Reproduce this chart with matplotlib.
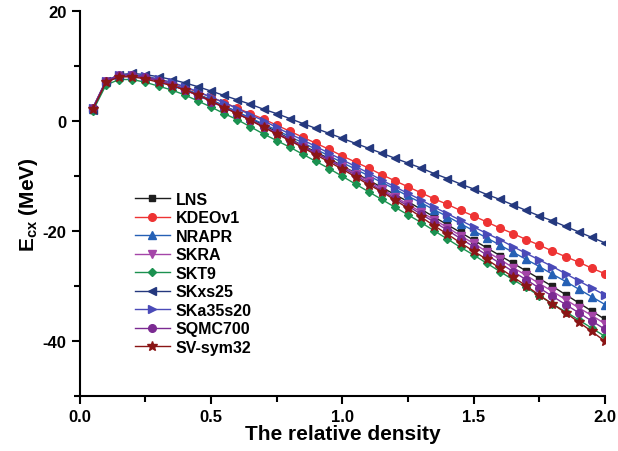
import numpy as np
import matplotlib
matplotlib.use('Agg')
from matplotlib import pyplot as plt
from matplotlib.ticker import MultipleLocator

plt.rcParams['font.family'] = ['Liberation Sans', 'DejaVu Sans']
plt.rcParams['axes.unicode_minus'] = False
plt.rcParams['mathtext.fontset'] = 'custom'
plt.rcParams['mathtext.rm'] = 'Liberation Sans'
plt.rcParams['mathtext.bf'] = 'Liberation Sans:bold'

# relative density (x) sampled every 0.05
rho = [0.05, 0.10, 0.15, 0.20, 0.25, 0.30, 0.35, 0.40, 0.45, 0.50,
       0.55, 0.60, 0.65, 0.70, 0.75, 0.80, 0.85, 0.90, 0.95, 1.00,
       1.05, 1.10, 1.15, 1.20, 1.25, 1.30, 1.35, 1.40, 1.45, 1.50,
       1.55, 1.60, 1.65, 1.70, 1.75, 1.80, 1.85, 1.90, 1.95, 2.00]

LNS = [2.0, 7.0, 8.1, 8.2, 7.9, 7.3, 6.6, 5.8, 4.8, 3.8,
       2.7, 1.6, 0.4, -0.8, -2.0, -3.3, -4.5, -5.7, -6.9, -8.2,
       -9.5, -10.8, -12.1, -13.4, -14.7, -16.1, -17.5, -18.9, -20.3, -21.7,
       -23.1, -24.5, -25.9, -27.3, -28.7, -30.1, -31.6, -33.1, -34.6, -36.1]
KDEOv1 = [2.3, 7.2, 8.2, 8.3, 8.0, 7.5, 6.9, 6.1, 5.2, 4.3,
          3.3, 2.3, 1.3, 0.3, -0.8, -1.9, -3.0, -4.1, -5.2, -6.4,
          -7.5, -8.6, -9.8, -10.9, -12.0, -13.1, -14.2, -15.2, -16.3, -17.3,
          -18.4, -19.5, -20.5, -21.6, -22.6, -23.7, -24.7, -25.7, -26.8, -27.8]
NRAPR = [2.2, 7.1, 8.1, 8.2, 7.9, 7.3, 6.6, 5.8, 4.8, 3.8,
         2.7, 1.6, 0.5, -0.6, -1.7, -2.9, -4.0, -5.2, -6.4, -7.6,
         -8.8, -10.0, -11.2, -12.4, -13.7, -14.9, -16.2, -17.4, -18.7, -20.0,
         -21.3, -22.6, -23.9, -25.2, -26.5, -27.9, -29.2, -30.6, -32.0, -33.4]
SKRA = [2.0, 7.0, 8.0, 8.1, 7.8, 7.2, 6.5, 5.6, 4.6, 3.6,
        2.5, 1.4, 0.2, -1.0, -2.2, -3.4, -4.6, -5.9, -7.1, -8.3,
        -9.6, -11.0, -12.4, -13.8, -15.2, -16.6, -18.0, -19.4, -20.9, -22.3,
        -23.8, -25.2, -26.7, -28.1, -29.6, -31.0, -32.5, -34.0, -35.4, -36.9]
SKT9 = [1.8, 6.5, 7.5, 7.5, 7.0, 6.3, 5.6, 4.7, 3.6, 2.5,
        1.3, 0.2, -1.1, -2.4, -3.6, -4.8, -6.1, -7.4, -8.7, -10.1,
        -11.5, -12.9, -14.3, -15.7, -17.1, -18.5, -20.0, -21.5, -23.0, -24.4,
        -25.9, -27.4, -28.9, -30.3, -31.8, -33.3, -34.7, -36.2, -37.7, -39.2]
SKxs25 = [2.0, 7.2, 8.4, 8.6, 8.4, 8.0, 7.5, 6.9, 6.2, 5.4,
          4.6, 3.8, 3.0, 2.1, 1.3, 0.4, -0.5, -1.4, -2.3, -3.2,
          -4.1, -5.0, -5.9, -6.8, -7.7, -8.6, -9.6, -10.5, -11.5, -12.4,
          -13.4, -14.3, -15.3, -16.3, -17.3, -18.2, -19.2, -20.2, -21.2, -22.2]
SKa35s20 = [2.4, 7.3, 8.3, 8.4, 8.1, 7.6, 7.0, 6.2, 5.3, 4.3,
            3.3, 2.2, 1.1, 0.0, -1.2, -2.4, -3.5, -4.7, -5.9, -7.1,
            -8.3, -9.5, -10.8, -12.0, -13.2, -14.4, -15.7, -16.9, -18.1, -19.3,
            -20.5, -21.6, -22.9, -24.1, -25.3, -26.5, -27.8, -29.1, -30.4, -31.7]
SQMC700 = [2.3, 7.3, 8.3, 8.3, 7.9, 7.3, 6.5, 5.6, 4.6, 3.5,
           2.4, 1.3, 0.1, -1.1, -2.3, -3.5, -4.7, -5.9, -7.2, -8.5,
           -9.9, -11.3, -12.7, -14.1, -15.5, -17.0, -18.4, -19.9, -21.4, -22.9,
           -24.4, -25.9, -27.4, -28.9, -30.4, -31.9, -33.4, -34.9, -36.4, -37.9]
SVsym32 = [2.1, 7.0, 8.0, 8.0, 7.6, 7.0, 6.4, 5.6, 4.7, 3.6,
           2.4, 1.3, 0.1, -1.2, -2.4, -3.6, -4.9, -6.2, -7.5, -8.8,
           -10.2, -11.6, -12.9, -14.4, -15.9, -17.5, -19.1, -20.6, -22.2, -23.7,
           -25.2, -26.8, -28.4, -30.0, -31.7, -33.3, -34.9, -36.6, -38.3, -40.1]

names = ['LNS', 'KDEOv1', 'NRAPR', 'SKRA', 'SKT9', 'SKxs25', 'SKa35s20', 'SQMC700', 'SV-sym32']
series = [LNS, KDEOv1, NRAPR, SKRA, SKT9, SKxs25, SKa35s20, SQMC700, SVsym32]
markers = ['s', 'o', '^', 'v', 'D', '<', '>', 'o', '*']
colors = ['#1e1e1e', '#ee3333', '#2560b5', '#a445a8', '#1b9150', '#24387e', '#4a4ab8', '#7b2a92', '#8a1515']
msizes = [5, 5.5, 5.5, 5.5, 4.5, 5.5, 5.5, 5.5, 7]

fig, ax = plt.subplots(figsize=(6.18, 4.52), dpi=100)
fig.subplots_adjust(left=0.129, right=0.979, bottom=0.122, top=0.974)

for y, name, m, c, ms in zip(series, names, markers, colors, msizes):
    ax.plot(rho, y, marker=m, color=c, markersize=ms, linewidth=1.0, label=name)

ax.set_xlim(0, 2.0)
ax.set_ylim(-50, 20)
ax.xaxis.set_major_locator(MultipleLocator(0.5))
ax.xaxis.set_minor_locator(MultipleLocator(0.25))
ax.yaxis.set_major_locator(MultipleLocator(20))
ax.yaxis.set_minor_locator(MultipleLocator(10))
ax.spines['top'].set_visible(False)
ax.spines['right'].set_visible(False)
for s in ['left', 'bottom']:
    ax.spines[s].set_linewidth(1.5)
ax.tick_params(which='major', direction='out', length=6, width=1.5, labelsize=12)
ax.tick_params(which='minor', direction='out', length=4, width=1.5)
for lab in ax.get_xticklabels() + ax.get_yticklabels():
    lab.set_fontweight('bold')

ax.set_xlabel('The relative density', fontsize=15, fontweight='bold', labelpad=0)
ax.set_ylabel('E$_{\\mathbf{cx}}$ (MeV)', fontsize=15, fontweight='bold', labelpad=2)

leg = ax.legend(loc='upper left', bbox_to_anchor=(0.105, 0.53), frameon=False,
                borderaxespad=0, borderpad=0, handlelength=2.2, handletextpad=0.35,
                labelspacing=0.22, prop={'size': 11.5, 'weight': 'bold'})

fig.savefig('out.png', dpi=100)
